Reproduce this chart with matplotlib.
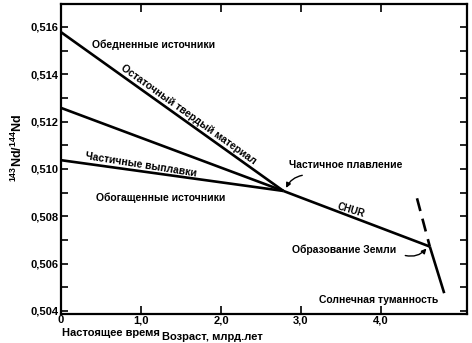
import matplotlib
matplotlib.use("Agg")
import matplotlib.pyplot as plt
from matplotlib.ticker import MultipleLocator

# ---- data ----
junction_age = 2.78
junction_ratio = 0.50907
earth_age = 4.61
earth_ratio = 0.50672

residual_x = [0.0, junction_age]
residual_y = [0.51578, junction_ratio]
middle_x = [0.0, junction_age]
middle_y = [0.51258, junction_ratio]
melt_x = [0.0, junction_age]
melt_y = [0.51037, junction_ratio]
chur_x = [junction_age, earth_age]
chur_y = [junction_ratio, earth_ratio]
nebula_dash_x = [4.45, earth_age]
nebula_dash_y = [0.50876, earth_ratio]
nebula_solid_x = [earth_age, 4.79]
nebula_solid_y = [earth_ratio, 0.50475]

x_ticks = [0, 1.0, 2.0, 3.0, 4.0]
x_ticklabels = ["0", "1,0", "2,0", "3,0", "4,0"]
y_ticks = [0.504, 0.506, 0.508, 0.510, 0.512, 0.514, 0.516]
y_ticklabels = ["0,504", "0,506", "0,508", "0,510", "0,512", "0,514", "0,516"]

FONT = "Liberation Sans"
plt.rcParams['font.family'] = [FONT, 'DejaVu Sans']
plt.rcParams['mathtext.fontset'] = 'custom'
plt.rcParams['mathtext.rm'] = FONT
plt.rcParams['mathtext.bf'] = FONT + ':bold'
plt.rcParams['mathtext.default'] = 'bf'

fig = plt.figure(figsize=(4.72, 3.43), dpi=100)
ax = fig.add_axes([61/472, 1-314/343, (467-61)/472, (314-4)/343])
ax.set_xlim(0, 5.075)
ax.set_ylim(0.50387, 0.51697)

lw = 1.9
for xs, ys in [(residual_x, residual_y), (middle_x, middle_y), (melt_x, melt_y),
               (chur_x, chur_y), (nebula_solid_x, nebula_solid_y)]:
    ax.plot(xs, ys, color='black', lw=lw, solid_capstyle='butt')
ax.plot(nebula_dash_x, nebula_dash_y, color='black', lw=lw, dashes=(5, 3))

for s in ax.spines.values():
    s.set_linewidth(1.6)

ax.set_xticks(x_ticks)
ax.set_xticklabels(x_ticklabels, fontsize=8, fontweight='bold')
ax.set_yticks(y_ticks)
ax.set_yticklabels(y_ticklabels, fontsize=8, fontweight='bold')
ax.yaxis.set_minor_locator(MultipleLocator(0.001))
ax.tick_params(axis='both', which='both', direction='in', width=1.2)
ax.tick_params(axis='y', which='both', length=5, pad=2, right=True)
ax.tick_params(axis='x', which='major', length=6, pad=1)

# top ticks
sec = ax.secondary_xaxis('top')
sec.set_xticks([1.0, 2.0, 3.0, 4.0])
sec.set_xticklabels([])
sec.tick_params(direction='in', length=6, width=1.2)
sec.spines['top'].set_visible(False)

fs = 7.5
ax.text(0.39, 0.51524, "Обедненные источники", fontsize=fs, fontweight='bold',
        ha='left', va='center')
ax.text(1.59, 0.51228, "Остаточный твердый материал", fontsize=fs, fontweight='bold',
        ha='center', va='center', rotation=-35.6)
ax.text(1.0, 0.51017, "Частичные выплавки", fontsize=fs, fontweight='bold',
        ha='center', va='center', rotation=-9)
ax.text(1.24, 0.50877, "Обогащенные источники", fontsize=fs, fontweight='bold',
        ha='center', va='center')
ax.text(3.56, 0.51017, "Частичное плавление", fontsize=fs, fontweight='bold',
        ha='center', va='center')
ax.text(3.63, 0.50825, "CHUR", fontsize=7, fontweight='bold',
        ha='center', va='center', rotation=-17)
ax.text(3.54, 0.50658, "Образование Земли", fontsize=fs, fontweight='bold',
        ha='center', va='center')
ax.text(3.97, 0.50446, "Солнечная туманность", fontsize=fs, fontweight='bold',
        ha='center', va='center')

ax.annotate("", xy=(junction_age + 0.02, junction_ratio + 0.00002),
            xytext=(3.05, 0.50975),
            arrowprops=dict(arrowstyle='-|>', lw=1.0, color='black', mutation_scale=7,
                            connectionstyle='arc3,rad=0.3'))
ax.annotate("", xy=(earth_age - 0.02, earth_ratio + 0.00001),
            xytext=(4.27, 0.50637),
            arrowprops=dict(arrowstyle='-|>', lw=1.0, color='black', mutation_scale=7,
                            connectionstyle='arc3,rad=0.35'))

fig.text(212/472, 1-337/343, "Возраст, млрд.лет", fontsize=8, fontweight='bold',
         ha='center', va='center')
fig.text(62/472, 1-333/343, "Настоящее время", fontsize=8, fontweight='bold',
         ha='left', va='center')
fig.text(17/472, 1-148/343, r"$^{143}$Nd/$^{144}$Nd", fontsize=9, fontweight='bold',
         ha='center', va='center', rotation=90)

fig.savefig("out.png", dpi=100)
